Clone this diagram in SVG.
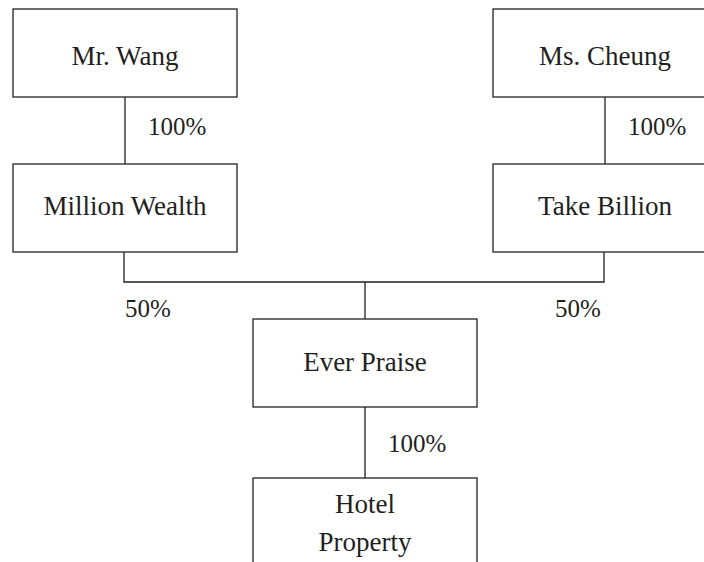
<svg xmlns="http://www.w3.org/2000/svg" width="704" height="562" viewBox="0 0 704 562">
<style>
.box{fill:#fff;stroke:#231f20;stroke-width:1.3}
.ln{fill:none;stroke:#231f20;stroke-width:1.3}
text{font-family:"Liberation Serif","Times New Roman",serif;font-size:25px;fill:#231f20}
.c{text-anchor:middle;font-size:27px}
</style>
<rect width="704" height="562" fill="#fff"/>
<g id="connectors">
<line class="ln" x1="125" y1="97" x2="125" y2="164"/>
<line class="ln" x1="605" y1="97" x2="605" y2="164"/>
<polyline class="ln" points="124,252 124,282 604,282 604,252"/>
<line class="ln" x1="365" y1="282" x2="365" y2="319"/>
<line class="ln" x1="365" y1="407" x2="365" y2="478"/>
<text x="148" y="135">100%</text>
<text x="628" y="135">100%</text>
<text x="125" y="317">50%</text>
<text x="555" y="317">50%</text>
<text x="388" y="452">100%</text>
</g>
<g id="mr-wang">
<rect class="box" x="13" y="9" width="224" height="88"/>
<text class="c" x="125" y="65">Mr. Wang</text>
</g>
<g id="ms-cheung">
<rect class="box" x="493" y="9" width="224" height="88"/>
<text class="c" x="605" y="65">Ms. Cheung</text>
</g>
<g id="million-wealth">
<rect class="box" x="13" y="164" width="224" height="88"/>
<text class="c" x="125" y="215">Million Wealth</text>
</g>
<g id="take-billion">
<rect class="box" x="493" y="164" width="224" height="88"/>
<text class="c" x="605" y="215">Take Billion</text>
</g>
<g id="ever-praise">
<rect class="box" x="253" y="319" width="224" height="88"/>
<text class="c" x="365" y="371">Ever Praise</text>
</g>
<g id="hotel-property">
<rect class="box" x="253" y="478" width="224" height="100"/>
<text class="c" x="365" y="513">Hotel</text>
<text class="c" x="365" y="551">Property</text>
</g>
</svg>
